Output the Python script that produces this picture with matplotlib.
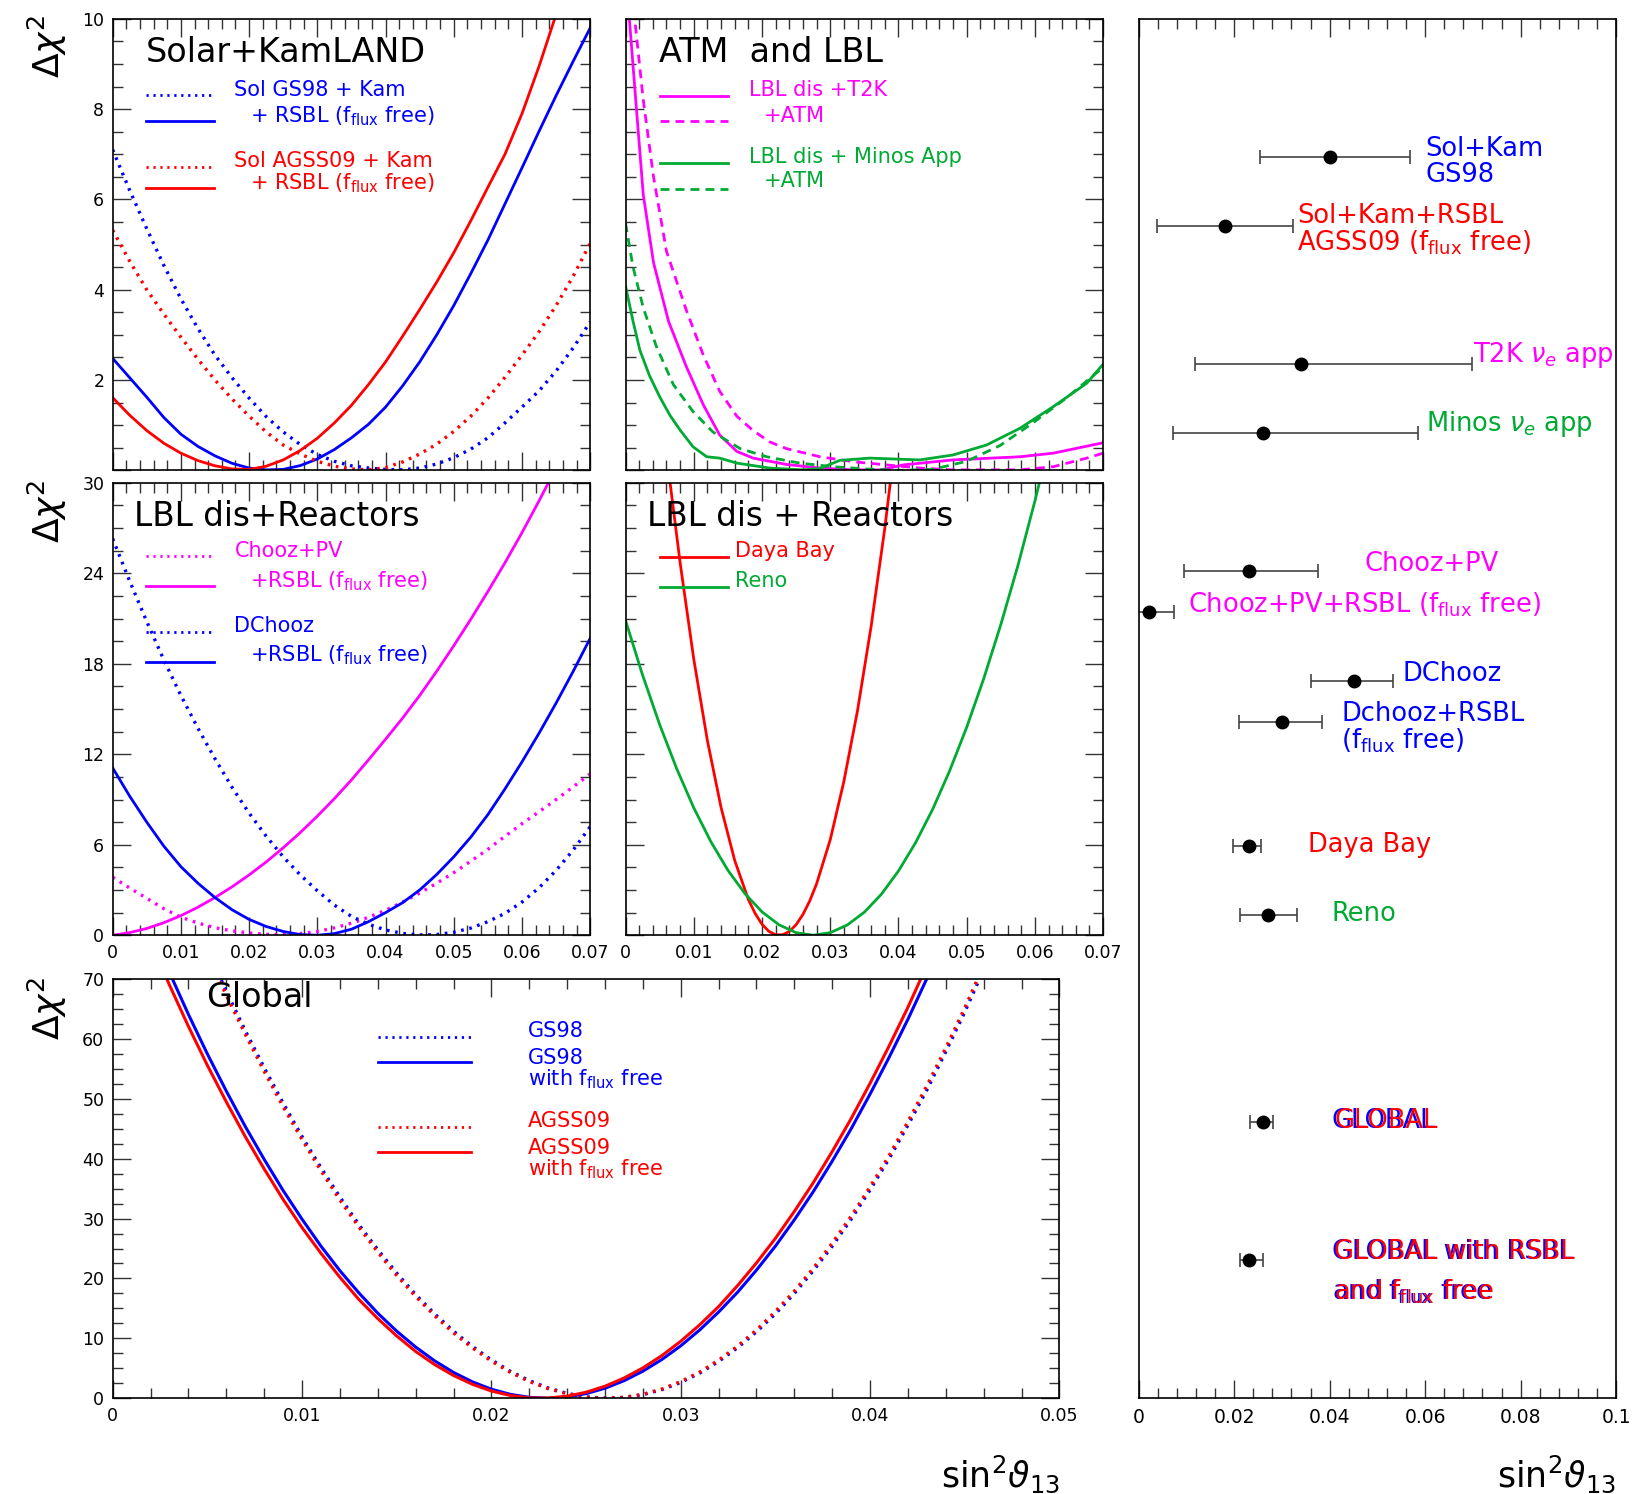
import matplotlib
matplotlib.use("Agg")
import matplotlib.pyplot as plt
from matplotlib.ticker import MultipleLocator, FuncFormatter
from matplotlib.transforms import offset_copy

plt.rcParams["font.family"] = ["DejaVu Sans"]
plt.rcParams["mathtext.fontset"] = "dejavusans"

BLUE = "#0000ff"
RED = "#ff0000"
MAGENTA = "#ff00ff"
GREEN = "#00aa33"
DOT = (0, (0.8, 1.7))
DASH = (0, (3.2, 2.2))
FLUX = "f$_{\\mathrm{flux}}$"

# ---------------- Solar + KamLAND ----------------
sk_x = [0.0, 0.0025, 0.005, 0.0075, 0.01, 0.0125, 0.015, 0.0175, 0.02, 0.0225,
        0.025, 0.0275, 0.03, 0.0325, 0.035, 0.0375, 0.04, 0.0425, 0.045, 0.0475,
        0.05, 0.0525, 0.055, 0.0575, 0.06, 0.0625, 0.065, 0.0675, 0.07]
sk_gs98_kam = [7.1, 6.2, 5.35, 4.54, 3.8, 3.14, 2.55, 2.05, 1.6, 1.19,
               0.85, 0.57, 0.35, 0.2, 0.1, 0.05, 0.02, 0.01, 0.05, 0.14,
               0.28, 0.47, 0.72, 1.05, 1.4, 1.76, 2.2, 2.71, 3.29]
sk_gs98_rsbl = [2.48, 2.05, 1.62, 1.17, 0.8, 0.53, 0.32, 0.155, 0.05, 0.01,
                0.02, 0.105, 0.25, 0.46, 0.72, 1.02, 1.4, 1.87, 2.4, 3.0,
                3.65, 4.36, 5.1, 5.9, 6.7, 7.51, 8.3, 9.06, 9.8]
sk_agss_kam = [5.32, 4.63, 4.0, 3.46, 2.95, 2.46, 2.0, 1.58, 1.2, 0.85,
               0.56, 0.36, 0.2, 0.09, 0.03, 0.01, 0.06, 0.185, 0.36, 0.58,
               0.86, 1.2, 1.6, 2.06, 2.55, 3.07, 3.65, 4.3, 5.03]
sk_agss_rsbl = [1.61, 1.22, 0.88, 0.6, 0.38, 0.215, 0.1, 0.03, 0.02, 0.09,
                0.23, 0.44, 0.71, 1.05, 1.44, 1.9, 2.4, 2.97, 3.56, 4.17,
                4.82, 5.53, 6.27, 7.0, 7.9, 8.95, 10.1, 11.3, 12.6]

# ---------------- ATM and LBL ----------------
t2k_x = [0.0004, 0.0016, 0.0026, 0.0041, 0.0063, 0.0089, 0.0114, 0.0138, 0.0163, 0.0187,
         0.0236, 0.0285, 0.0334, 0.0375, 0.0407, 0.048, 0.0578, 0.0627, 0.07]
t2k_y = [10.3, 8.0, 6.1, 4.6, 3.3, 2.3, 1.45, 0.78, 0.42, 0.27,
         0.13, 0.05, 0.01, 0.01, 0.12, 0.23, 0.30, 0.38, 0.61]
t2k_atm_x = [0.0012, 0.0026, 0.0041, 0.006, 0.0089, 0.0114, 0.0138, 0.0163, 0.0187, 0.0211,
             0.0236, 0.0285, 0.0334, 0.0382, 0.0431, 0.048, 0.0578, 0.0627, 0.0676, 0.07]
t2k_atm_y = [10.2, 8.2, 6.5, 4.85, 3.55, 2.55, 1.75, 1.2, 0.88, 0.63,
             0.48, 0.3, 0.19, 0.12, 0.05, 0.01, 0.01, 0.08, 0.27, 0.38]
minos_x = [0.0, 0.0011, 0.0021, 0.0035, 0.005, 0.0065, 0.008, 0.0099, 0.0119, 0.0138, 0.0163,
           0.0211, 0.026, 0.0285, 0.0314, 0.0358, 0.0431, 0.048, 0.0529, 0.0578, 0.0627, 0.0676, 0.07]
minos_y = [4.08, 3.3, 2.66, 2.1, 1.63, 1.22, 0.89, 0.52, 0.3, 0.27, 0.16,
           0.05, 0.01, 0.04, 0.22, 0.27, 0.23, 0.34, 0.56, 0.93, 1.41, 1.93, 2.35]
minos_atm_x = [0.0, 0.0011, 0.0026, 0.0045, 0.007, 0.0099, 0.0128, 0.0168, 0.0207, 0.0255,
               0.0304, 0.0353, 0.04, 0.045, 0.05, 0.0549, 0.0597, 0.0646, 0.07]
minos_atm_y = [5.47, 4.5, 3.6, 2.75, 1.9, 1.3, 0.85, 0.48, 0.3, 0.16,
               0.08, 0.03, 0.0, 0.02, 0.2, 0.55, 1.05, 1.6, 2.28]

# ---------------- LBL dis + Reactors (Chooz / DChooz) ----------------
rx = sk_x
chooz_pv = [3.85, 3.13, 2.45, 1.76, 1.2, 0.81, 0.5, 0.29, 0.15, 0.06,
            0.05, 0.11, 0.25, 0.49, 0.8, 1.19, 1.65, 2.2, 2.8, 3.45,
            4.15, 4.91, 5.7, 6.56, 7.4, 8.19, 9.0, 9.84, 10.7]
chooz_pv_rsbl = [0.0, 0.175, 0.45, 0.83, 1.3, 1.86, 2.5, 3.21, 4.0, 4.86,
                 5.8, 6.81, 7.9, 9.06, 10.3, 11.63, 13.0, 14.4, 15.9, 17.51,
                 19.2, 20.96, 22.8, 24.7, 26.7, 28.81, 31.0, 33.26, 35.6]
dchooz = [26.3, 23.48, 20.8, 18.26, 15.9, 13.73, 11.7, 9.81, 8.1, 6.57,
          5.2, 4.0, 2.95, 2.0, 1.25, 0.73, 0.35, 0.12, 0.02, 0.045,
          0.2, 0.475, 0.9, 1.45, 2.2, 3.15, 4.3, 5.65, 7.2]
dchooz_rsbl = [11.1, 9.22, 7.5, 5.91, 4.55, 3.45, 2.5, 1.69, 1.05, 0.58,
               0.25, 0.044, 0.0, 0.11, 0.4, 0.9, 1.5, 2.16, 3.0, 4.03,
               5.2, 6.51, 8.0, 9.7, 11.5, 13.4, 15.4, 17.5, 19.7]

# ---------------- LBL dis + Reactors (Daya Bay / Reno) ----------------
db_x = [0.006, 0.008, 0.01, 0.012, 0.014, 0.016, 0.018, 0.019, 0.02, 0.021, 0.022, 0.023,
        0.024, 0.025, 0.026, 0.027, 0.028, 0.03, 0.032, 0.034, 0.036, 0.038, 0.04]
db_y = [31.9, 24.7, 18.3, 12.9, 8.47, 4.96, 2.37, 1.44, 0.73, 0.26, 0.03, 0.03,
        0.25, 0.70, 1.38, 2.28, 3.41, 6.33, 10.2, 14.9, 20.5, 27.0, 34.5]
reno_x = [0.0, 0.0025, 0.005, 0.0075, 0.01, 0.0125, 0.015, 0.0175, 0.02, 0.0225, 0.025, 0.0275, 0.03,
          0.0325, 0.035, 0.0375, 0.04, 0.0425, 0.045, 0.0475, 0.05, 0.0525, 0.055, 0.0575, 0.06, 0.0625]
reno_y = [20.87, 17.25, 13.97, 11.04, 8.45, 6.21, 4.31, 2.76, 1.55, 0.69, 0.17, 0.0, 0.17,
          0.68, 1.53, 2.72, 4.26, 6.13, 8.34, 10.9, 13.79, 17.02, 20.6, 24.5, 28.8, 33.4]

# ---------------- Global ----------------
gx_dot = [0.005, 0.006, 0.007, 0.008, 0.009, 0.010, 0.011, 0.012, 0.013, 0.014,
          0.015, 0.016, 0.017, 0.018, 0.019, 0.020, 0.021, 0.022, 0.023, 0.024,
          0.025, 0.026, 0.027, 0.028, 0.029, 0.030, 0.031, 0.032, 0.033, 0.034,
          0.035, 0.036, 0.037, 0.038, 0.039, 0.040, 0.041, 0.042, 0.043, 0.044,
          0.045, 0.046, 0.047]
g_gs98 = [74.9, 68.0, 61.4, 55.2, 49.3, 43.7, 38.5, 33.6, 29.0, 24.8,
          20.9, 17.3, 14.1, 11.2, 8.64, 6.40, 4.50, 2.94, 1.71, 0.81,
          0.24, 0.01, 0.12, 0.59, 1.43, 2.64, 4.21, 6.14, 8.44, 11.1,
          14.1, 17.5, 21.3, 25.4, 29.9, 34.8, 40.0, 45.6, 51.5, 57.9,
          64.5, 71.6, 79.0]
g_agss = [74.2, 67.3, 60.8, 54.6, 48.7, 43.2, 38.0, 33.1, 28.6, 24.4,
          20.5, 17.0, 13.8, 10.9, 8.40, 6.20, 4.33, 2.80, 1.60, 0.73,
          0.20, 0.0, 0.15, 0.66, 1.54, 2.78, 4.38, 6.36, 8.69, 11.4,
          14.5, 17.9, 21.7, 25.9, 30.4, 35.3, 40.5, 46.2, 52.2, 58.5,
          65.2, 72.3, 79.8]
gx_free = [0.002, 0.003, 0.004, 0.005, 0.006, 0.007, 0.008, 0.009, 0.010, 0.011,
           0.012, 0.013, 0.014, 0.015, 0.016, 0.017, 0.018, 0.019, 0.020, 0.021,
           0.022, 0.023, 0.024, 0.025, 0.026, 0.027, 0.028, 0.029, 0.030, 0.031,
           0.032, 0.033, 0.034, 0.035, 0.036, 0.037, 0.038, 0.039, 0.040, 0.041,
           0.042, 0.043, 0.044]
g_gs98_free = [78.4, 71.1, 64.1, 57.5, 51.3, 45.4, 39.9, 34.7, 29.9, 25.4,
               21.3, 17.6, 14.2, 11.2, 8.55, 6.25, 4.31, 2.73, 1.51, 0.65,
               0.15, 0.0, 0.21, 0.77, 1.67, 2.92, 4.52, 6.46, 8.75, 11.4,
               14.4, 17.7, 21.4, 25.4, 29.8, 34.5, 39.6, 45.0, 50.8, 56.9,
               63.3, 70.1, 77.3]
g_agss_free = [76.2, 69.0, 62.1, 55.6, 49.5, 43.7, 38.3, 33.2, 28.5, 24.2,
               20.2, 16.5, 13.3, 10.4, 7.82, 5.63, 3.80, 2.33, 1.21, 0.46,
               0.06, 0.03, 0.34, 1.0, 2.01, 3.36, 5.06, 7.11, 9.51, 12.25,
               15.3, 18.8, 22.6, 26.7, 31.2, 36.0, 41.2, 46.7, 52.6, 58.8,
               65.3, 72.3, 79.5]

# ---------------- summary of best fits ----------------
sum_labels = ["Sol+Kam\nGS98", "Sol+Kam+RSBL\nAGSS09 (" + FLUX + " free)", "T2K $\\nu_e$ app",
              "Minos $\\nu_e$ app", "Chooz+PV", "Chooz+PV+RSBL (" + FLUX + " free)", "DChooz",
              "Dchooz+RSBL\n(" + FLUX + " free)", "Daya Bay", "Reno"]
sum_colors = [BLUE, RED, MAGENTA, GREEN, MAGENTA, MAGENTA, BLUE, BLUE, RED, GREEN]
sum_label_x = [0.0601, 0.0332, 0.0700, 0.0601, 0.0472, 0.0103, 0.0553, 0.0424, 0.0354, 0.0404]
sum_label_row = [10.4, 15.3, 24.4, 29.4, 39.5, 42.5, 47.5, 51.4, 59.9, 64.9]
sum_row = [10, 15, 25, 30, 40, 43, 48, 51, 60, 65, 80, 90]
sum_best = [0.0401, 0.0181, 0.034, 0.026, 0.0231, 0.0022, 0.0451, 0.030, 0.0231, 0.027, 0.026, 0.0231]
sum_lo = [0.0254, 0.0039, 0.0119, 0.0072, 0.0095, -0.0025, 0.036, 0.021, 0.0198, 0.0212, 0.0233, 0.0212]
sum_hi = [0.0568, 0.0323, 0.0699, 0.0585, 0.0376, 0.0074, 0.0533, 0.0384, 0.0256, 0.0331, 0.0282, 0.026]
global_labels = ["GLOBAL", "GLOBAL with RSBL\nand " + FLUX + " free"]
global_label_row = [79.9, 90.9]


fig = plt.figure(figsize=(16.35, 14.94), dpi=100)
fmt = FuncFormatter(lambda v, p: "%g" % round(v, 6))
fmt_no0 = FuncFormatter(lambda v, p: "" if abs(v) < 1e-9 else "%g" % round(v, 6))


def root_axes(ax, xmax, xmaj, ymax, ymaj, xlab, ylab):
    ax.set_xlim(0, xmax)
    ax.set_ylim(0, ymax)
    ax.xaxis.set_major_locator(MultipleLocator(xmaj))
    ax.xaxis.set_minor_locator(MultipleLocator(xmaj / 5))
    ax.yaxis.set_major_locator(MultipleLocator(ymaj))
    ax.yaxis.set_minor_locator(MultipleLocator(ymaj / 4))
    ax.xaxis.set_major_formatter(fmt)
    ax.yaxis.set_major_formatter(fmt)
    ax.tick_params(which="both", direction="in", top=True, right=True, width=1.0, color="#333333")
    ax.tick_params(which="major", length=13, labelsize=12.5, pad=6)
    ax.tick_params(which="minor", length=7)
    ax.tick_params(labelbottom=xlab, labelleft=ylab)
    for s in ax.spines.values():
        s.set_linewidth(1.2)


def key(ax, y, color, ls, x0=0.07, x1=0.212):
    ax.plot([x0, x1], [y, y], transform=ax.transAxes, color=color, ls=ls, lw=2, clip_on=False)


def note(ax, x, y, s, color, size=15, **kw):
    ax.text(x, y, s, transform=ax.transAxes, color=color, fontsize=size, va="center", ha="left", **kw)


# panel 1
ax1 = fig.add_axes([0.0689, 0.6852, 0.2921, 0.3022])
root_axes(ax1, 0.07, 0.01, 10, 2, False, True)
ax1.yaxis.set_major_formatter(fmt_no0)
ax1.plot(sk_x, sk_gs98_kam, color=BLUE, ls=DOT, lw=2.4)
ax1.plot(sk_x, sk_gs98_rsbl, color=BLUE, lw=2)
ax1.plot(sk_x, sk_agss_kam, color=RED, ls=DOT, lw=2.4)
ax1.plot(sk_x, sk_agss_rsbl, color=RED, lw=2)
note(ax1, 0.07, 0.926, "Solar+KamLAND", "black", 24)
key(ax1, 0.831, BLUE, DOT)
key(ax1, 0.774, BLUE, "-")
key(ax1, 0.672, RED, DOT)
key(ax1, 0.626, RED, "-")
note(ax1, 0.255, 0.843, "Sol GS98 + Kam", BLUE)
note(ax1, 0.288, 0.785, "+ RSBL (" + FLUX + " free)", BLUE)
note(ax1, 0.255, 0.684, "Sol AGSS09 + Kam", RED)
note(ax1, 0.288, 0.637, "+ RSBL (" + FLUX + " free)", RED)

# panel 2
ax2 = fig.add_axes([0.3826, 0.6852, 0.2921, 0.3022])
root_axes(ax2, 0.07, 0.01, 10, 2, False, False)
ax2.plot(t2k_x, t2k_y, color=MAGENTA, lw=2)
ax2.plot(t2k_atm_x, t2k_atm_y, color=MAGENTA, ls=DASH, lw=2)
ax2.plot(minos_x, minos_y, color=GREEN, lw=2)
ax2.plot(minos_atm_x, minos_atm_y, color=GREEN, ls=DASH, lw=2)
note(ax2, 0.07, 0.926, "ATM  and LBL", "black", 24)
key(ax2, 0.829, MAGENTA, "-", 0.072, 0.214)
key(ax2, 0.774, MAGENTA, DASH, 0.072, 0.214)
key(ax2, 0.681, GREEN, "-", 0.072, 0.214)
key(ax2, 0.624, GREEN, DASH, 0.072, 0.214)
note(ax2, 0.258, 0.843, "LBL dis +T2K", MAGENTA)
note(ax2, 0.29, 0.785, "+ATM", MAGENTA)
note(ax2, 0.258, 0.695, "LBL dis + Minos App", GREEN)
note(ax2, 0.29, 0.64, "+ATM", GREEN)

# panel 3
ax3 = fig.add_axes([0.0689, 0.374, 0.2921, 0.3028])
root_axes(ax3, 0.07, 0.01, 30, 6, True, True)
ax3.plot(rx, chooz_pv, color=MAGENTA, ls=DOT, lw=2.4)
ax3.plot(rx, chooz_pv_rsbl, color=MAGENTA, lw=2)
ax3.plot(rx, dchooz, color=BLUE, ls=DOT, lw=2.4)
ax3.plot(rx, dchooz_rsbl, color=BLUE, lw=2)
note(ax3, 0.044, 0.926, "LBL dis+Reactors", "black", 23.5)
key(ax3, 0.839, MAGENTA, DOT)
key(ax3, 0.772, MAGENTA, "-")
key(ax3, 0.67, BLUE, DOT)
key(ax3, 0.604, BLUE, "-")
note(ax3, 0.255, 0.85, "Chooz+PV", MAGENTA)
note(ax3, 0.288, 0.783, "+RSBL (" + FLUX + " free)", MAGENTA)
note(ax3, 0.255, 0.684, "DChooz", BLUE)
note(ax3, 0.288, 0.618, "+RSBL (" + FLUX + " free)", BLUE)

# panel 4
ax4 = fig.add_axes([0.3826, 0.374, 0.2921, 0.3028])
root_axes(ax4, 0.07, 0.01, 30, 6, True, False)
ax4.plot(db_x, db_y, color=RED, lw=2)
ax4.plot(reno_x, reno_y, color=GREEN, lw=2)
note(ax4, 0.044, 0.926, "LBL dis + Reactors", "black", 23.5)
key(ax4, 0.836, RED, "-", 0.072, 0.214)
key(ax4, 0.77, GREEN, "-", 0.072, 0.214)
note(ax4, 0.229, 0.85, "Daya Bay", RED)
note(ax4, 0.229, 0.783, "Reno", GREEN)

# panel 5 (global)
ax5 = fig.add_axes([0.0689, 0.0641, 0.5791, 0.2806])
root_axes(ax5, 0.05, 0.01, 70, 10, True, True)
ax5.plot(gx_dot, g_gs98, color=BLUE, ls=DOT, lw=2.4)
ax5.plot(gx_dot, g_agss, color=RED, ls=(0.9, (0.8, 1.7)), lw=2.4)
ax5.plot(gx_free, g_gs98_free, color=BLUE, lw=2.2)
ax5.plot(gx_free, g_agss_free, color=RED, lw=2.2)
note(ax5, 0.099, 0.955, "Global", "black", 24)
key(ax5, 0.861, BLUE, DOT, 0.28, 0.379)
key(ax5, 0.801, BLUE, "-", 0.28, 0.379)
key(ax5, 0.647, RED, DOT, 0.28, 0.379)
key(ax5, 0.587, RED, "-", 0.28, 0.379)
note(ax5, 0.439, 0.876, "GS98", BLUE)
note(ax5, 0.439, 0.784, "GS98\nwith " + FLUX + " free", BLUE, linespacing=0.95)
note(ax5, 0.439, 0.662, "AGSS09", RED)
note(ax5, 0.439, 0.570, "AGSS09\nwith " + FLUX + " free", RED, linespacing=0.95)

# panel 6 (summary)
ax6 = fig.add_axes([0.6964, 0.0641, 0.2921, 0.9233])
ax6.set_xlim(0, 0.1)
ax6.set_ylim(100, 0)
ax6.xaxis.set_major_locator(MultipleLocator(0.02))
ax6.xaxis.set_minor_locator(MultipleLocator(0.004))
ax6.xaxis.set_major_formatter(fmt)
ax6.tick_params(axis="x", which="both", direction="in", top=True, width=1.0, color="#333333")
ax6.tick_params(axis="x", which="major", length=13, labelsize=13.5, pad=7)
ax6.tick_params(axis="x", which="minor", length=7)
ax6.tick_params(axis="y", left=False, right=False, labelleft=False)
for s in ax6.spines.values():
    s.set_linewidth(1.2)
xerr = [[b - l for b, l in zip(sum_best, sum_lo)], [h - b for b, h in zip(sum_best, sum_hi)]]
ax6.errorbar(sum_best, sum_row, xerr=xerr, fmt="o", color="black", ms=9,
             ecolor="#444444", elinewidth=1.2, capsize=5, capthick=1.2)
for s, c, x, y in zip(sum_labels, sum_colors, sum_label_x, sum_label_row):
    ax6.text(x, y, s, color=c, fontsize=18.5, ha="left", va="center", linespacing=1.0)
shift = offset_copy(ax6.transData, fig=fig, x=1.8, y=0, units="points")
for s, y in zip(global_labels, global_label_row):
    ax6.text(0.0404, y, s, color=BLUE, fontsize=18.5, ha="left", va="center", linespacing=1.55)
    ax6.text(0.0404, y, s, color=RED, fontsize=18.5, ha="left", va="center", linespacing=1.55,
             transform=shift)

# axis titles
for ytop in [0.990, 0.679, 0.346]:
    fig.text(0.0287, ytop, "$\\Delta\\chi^2$", rotation=90, ha="center", va="top", fontsize=26)
for xr in [0.648, 0.9885]:
    fig.text(xr, 0.013, "sin$^2\\vartheta_{13}$", ha="right", va="center", fontsize=25)

fig.savefig("out.png", dpi=100)
